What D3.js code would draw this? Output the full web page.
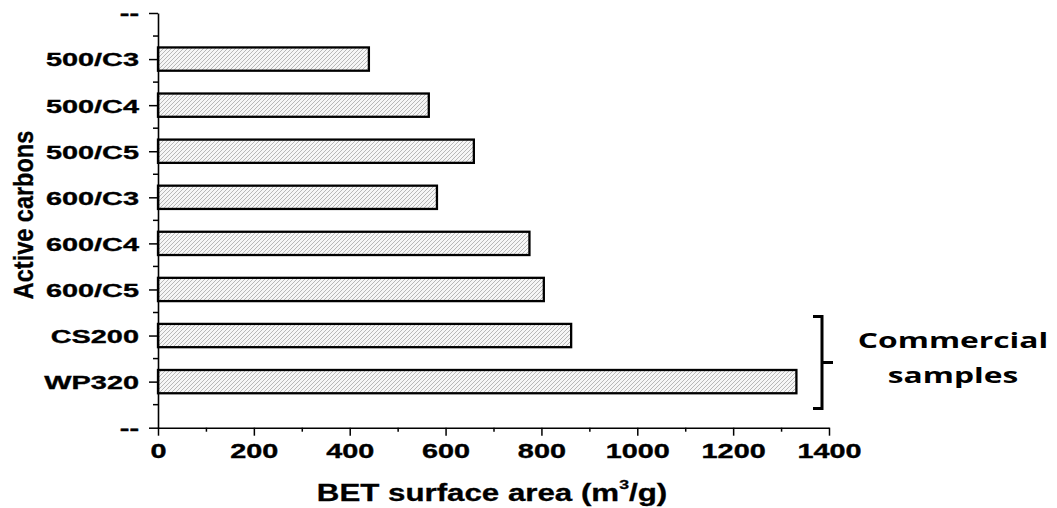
<!DOCTYPE html>
<html>
<head>
<meta charset="utf-8">
<script src="https://cdn.jsdelivr.net/npm/d3@7"></script>
<style>
  html, body { margin: 0; padding: 0; background: #fff; }
  svg { display: block; }
</style>
</head>
<body>
<svg id="chart" width="1057" height="508"></svg>
<script>
// ---- data ----
const categories = ["500/C3", "500/C4", "500/C5", "600/C3", "600/C4", "600/C5", "CS200", "WP320"];
const surfaceArea = [440, 565, 659, 582, 775, 805, 862, 1332];
const xTickValues = [0, 200, 400, 600, 800, 1000, 1200, 1400];
const xMinorTickValues = [100, 300, 500, 700, 900, 1100, 1300];
const endSlots = ["__top", "__bottom"];
const commercialGroup = ["CS200", "WP320"];
const commercialLabel = ["Commercial", "samples"];
const xTitle = "BET surface area (m";
const yTitle = "Active carbons";

const svg = d3.select("#chart");
const fontAxis = "'Liberation Sans', Arial, sans-serif";

// scales
const x = d3.scaleLinear().domain([0, 1400]).range([158, 829]);
const slots = [endSlots[0], ...categories, endSlots[1]];
const y = d3.scalePoint().domain(slots).range([13, 427.7]);
const step = y.step();
const barH = step * 0.505;

// hatch pattern
const defs = svg.append("defs");
const pat = defs.append("pattern")
  .attr("id", "hatch").attr("patternUnits", "userSpaceOnUse")
  .attr("width", 4).attr("height", 4);
pat.append("rect").attr("width", 4).attr("height", 4).attr("fill", "#f6f6f6");
pat.append("path")
  .attr("d", "M-1,1 l2,-2 M0,4 l4,-4 M3,5 l2,-2")
  .attr("stroke", "#a3a3a3").attr("stroke-width", 0.75);

// bars
svg.append("g").selectAll("rect")
  .data(categories.map((c, i) => ({ c, v: surfaceArea[i] })))
  .join("rect")
  .attr("x", x(0))
  .attr("y", d => y(d.c) - barH / 2)
  .attr("width", d => x(d.v) - x(0))
  .attr("height", barH)
  .attr("fill", "url(#hatch)")
  .attr("stroke", "#000")
  .attr("stroke-width", 2.3);

// y axis
const yAxis = svg.append("g").attr("transform", `translate(${x(0)},0)`)
  .call(d3.axisLeft(y).tickSize(9).tickSizeOuter(0)
    .tickFormat(d => endSlots.includes(d) ? "--" : d));
yAxis.select(".domain").attr("stroke-width", 1.6);
yAxis.selectAll(".tick line").attr("stroke-width", 1.5);
yAxis.selectAll(".tick text")
  .attr("x", -12.5).attr("dy", "0.36em")
  .attr("transform", "scale(1.52,1)")
  .attr("font-family", fontAxis).attr("font-weight", "bold")
  .attr("font-size", 19).attr("fill", "#000")
  .attr("stroke", "#000").attr("stroke-width", 0.35);

// y minor ticks (midpoints)
const yMinor = slots.slice(0, -1).map(s => y(s) + step / 2);
svg.append("g").selectAll("line").data(yMinor).join("line")
  .attr("x1", x(0) - 5).attr("x2", x(0))
  .attr("y1", d => d).attr("y2", d => d)
  .attr("stroke", "#000").attr("stroke-width", 1.5);

// x axis
const xAxis = svg.append("g").attr("transform", `translate(0,${y.range()[1]})`)
  .call(d3.axisBottom(x).tickValues(xTickValues).tickFormat(d3.format("d"))
    .tickSize(8).tickSizeOuter(0));
xAxis.select(".domain").attr("stroke-width", 1.6);
xAxis.selectAll(".tick line").attr("stroke-width", 1.5);
xAxis.selectAll(".tick text")
  .attr("y", 0).attr("dy", 0)
  .attr("transform", "translate(0,30) scale(1.48,1)")
  .attr("font-family", fontAxis).attr("font-weight", "bold")
  .attr("font-size", 19.5).attr("fill", "#000")
  .attr("stroke", "#000").attr("stroke-width", 0.35);

const xMinorAxis = svg.append("g").attr("transform", `translate(0,${y.range()[1]})`)
  .call(d3.axisBottom(x).tickValues(xMinorTickValues).tickSize(4).tickFormat(""));
xMinorAxis.select(".domain").remove();
xMinorAxis.selectAll(".tick line").attr("stroke-width", 1.5);

// x title
const xt = svg.append("text")
  .attr("transform", "translate(492,501) scale(1.36,1)")
  .attr("text-anchor", "middle")
  .attr("font-family", fontAxis).attr("font-weight", "bold")
  .attr("font-size", 23).attr("fill", "#000")
  .attr("stroke", "#000").attr("stroke-width", 0.3);
xt.append("tspan").text(xTitle);
xt.append("tspan").attr("font-size", 13).attr("dy", -12).text("3");
xt.append("tspan").attr("dy", 12).text("/g)");

// y title
svg.append("text")
  .attr("transform", "translate(33,215) rotate(-90) scale(1,1.18)")
  .attr("text-anchor", "middle")
  .attr("font-family", fontAxis).attr("font-weight", "bold")
  .attr("font-size", 23.5).attr("fill", "#000")
  .attr("stroke", "#000").attr("stroke-width", 0.3)
  .text(yTitle);

// bracket annotation
const bx = 822;
const bTop = y(commercialGroup[0]) - 19;
const bBot = y(commercialGroup[1]) + 27;
const bMid = (y(commercialGroup[0]) + y(commercialGroup[1])) / 2 + 4;
svg.append("path")
  .attr("d", `M${bx - 9},${bTop} H${bx} V${bBot} H${bx - 9} M${bx},${bMid} H${bx + 11}`)
  .attr("fill", "none").attr("stroke", "#000").attr("stroke-width", 3);

svg.append("g").selectAll("text").data(commercialLabel).join("text")
  .attr("transform", (d, i) => `translate(953,${348 + i * 35}) scale(1.55,1)`)
  .attr("text-anchor", "middle")
  .attr("font-family", "'Open Sans', sans-serif").attr("font-weight", "bold")
  .attr("font-size", 20.5).attr("fill", "#000")
  .text(d => d);
</script>
</body>
</html>
